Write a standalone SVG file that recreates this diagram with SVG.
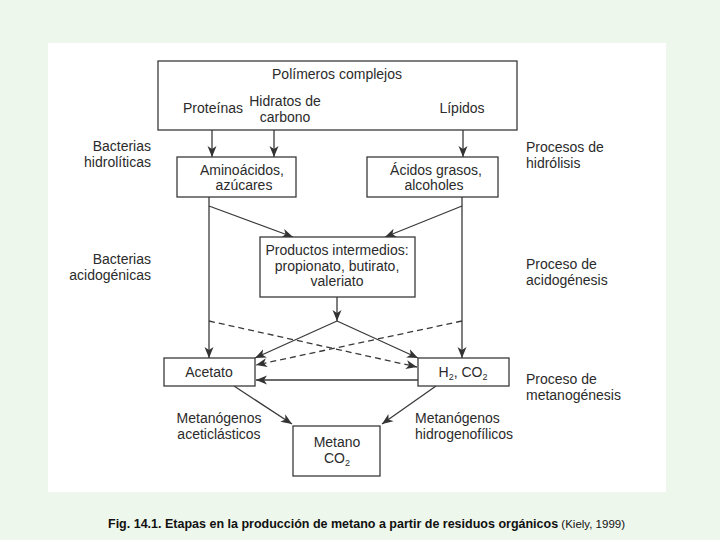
<svg xmlns="http://www.w3.org/2000/svg" width="720" height="540" viewBox="0 0 720 540">
<style>
.t{font-family:"Liberation Sans",Arial,sans-serif;font-size:14px;fill:#2b2b2b}
.m{text-anchor:middle}
.e{text-anchor:end}
.box{fill:#fff;stroke:#3a3a3a;stroke-width:1.3}
.ln{stroke:#3a3a3a;stroke-width:1.3;fill:none}
.ar{marker-end:url(#ah)}
.d{stroke-dasharray:6 4}
.cap{font-family:"Liberation Sans",Arial,sans-serif;fill:#111}
</style>
<defs>
<marker id="ah" markerUnits="userSpaceOnUse" markerWidth="12" markerHeight="10" viewBox="0 0 12 10" refX="11" refY="5" orient="auto">
<path d="M0,0.5 L11,5 L0,9.5 L3,5 z" fill="#333"/>
</marker>
</defs>
<rect x="0" y="0" width="720" height="540" fill="#eef7ec"/>
<rect x="48" y="43" width="618" height="449" fill="#ffffff"/>

<g id="connectors">
<line class="ln ar" x1="212" y1="130" x2="212" y2="157"/>
<line class="ln ar" x1="274" y1="130" x2="274" y2="157"/>
<line class="ln ar" x1="463" y1="130" x2="463" y2="157"/>
<line class="ln ar" x1="209" y1="197" x2="209" y2="358"/>
<line class="ln ar" x1="462" y1="197" x2="462" y2="358"/>
<line class="ln ar" x1="209" y1="206" x2="293" y2="237"/>
<line class="ln ar" x1="462" y1="206" x2="385" y2="237"/>
<line class="ln ar" x1="337" y1="297" x2="337" y2="321"/>
<line class="ln ar" x1="337" y1="321" x2="255" y2="358"/>
<line class="ln ar" x1="337" y1="321" x2="418" y2="358"/>
<line class="ln ar d" x1="209" y1="321" x2="417" y2="367"/>
<line class="ln ar d" x1="462" y1="321" x2="256" y2="365"/>
<line class="ln ar" x1="418" y1="380" x2="256" y2="380"/>
<line class="ln ar" x1="234" y1="386" x2="292" y2="424"/>
<line class="ln ar" x1="436" y1="386" x2="382" y2="424"/>
</g>

<g id="polimeros">
<rect class="box" x="158" y="61" width="359" height="69"/>
<text class="t m" x="337" y="79">Polímeros complejos</text>
<text class="t m" x="213" y="113">Proteínas</text>
<text class="t m" x="285" y="106">Hidratos de</text>
<text class="t m" x="285" y="122">carbono</text>
<text class="t m" x="462" y="113">Lípidos</text>
</g>

<g id="aminoacidos">
<rect class="box" x="177" y="157" width="119" height="40"/>
<text class="t m" x="242" y="175">Aminoácidos,</text>
<text class="t m" x="244" y="190">azúcares</text>
</g>

<g id="acidos">
<rect class="box" x="367" y="157" width="131" height="40"/>
<text class="t m" x="436" y="175">Ácidos grasos,</text>
<text class="t m" x="434" y="190">alcoholes</text>
</g>

<g id="productos">
<rect class="box" x="260" y="237" width="155" height="60"/>
<text class="t m" x="337" y="255">Productos intermedios:</text>
<text class="t m" x="337" y="271">propionato, butirato,</text>
<text class="t m" x="337" y="286">valeriato</text>
</g>

<g id="acetato">
<rect class="box" x="164" y="358" width="91" height="28"/>
<text class="t m" x="209" y="377">Acetato</text>
</g>

<g id="h2co2">
<rect class="box" x="418" y="358" width="91" height="28"/>
<text class="t m" x="463" y="377">H<tspan font-size="9" dy="3">2</tspan><tspan dy="-3">, CO</tspan><tspan font-size="9" dy="3">2</tspan></text>
</g>

<g id="metano">
<rect class="box" x="293" y="426" width="87" height="50"/>
<text class="t m" x="337" y="447">Metano</text>
<text class="t m" x="337" y="463">CO<tspan font-size="9" dy="3">2</tspan></text>
</g>

<g id="labels">
<text class="t e" x="151" y="151">Bacterias</text>
<text class="t e" x="151" y="167">hidrolíticas</text>
<text class="t e" x="151" y="264">Bacterias</text>
<text class="t e" x="151" y="280">acidogénicas</text>
<text class="t" x="526" y="152">Procesos de</text>
<text class="t" x="526" y="168">hidrólisis</text>
<text class="t" x="526" y="269">Proceso de</text>
<text class="t" x="526" y="285">acidogénesis</text>
<text class="t" x="526" y="384">Proceso de</text>
<text class="t" x="526" y="400">metanogénesis</text>
<text class="t m" x="219" y="423">Metanógenos</text>
<text class="t m" x="219" y="439">aceticlásticos</text>
<text class="t" x="415" y="423">Metanógenos</text>
<text class="t" x="415" y="439">hidrogenofílicos</text>
</g>

<g id="caption">
<text class="cap" x="108" y="528" font-size="12.5"><tspan font-weight="bold">Fig. 14.1. Etapas en la producción de metano a partir de residuos orgánicos</tspan><tspan font-size="11.5"> (Kiely, 1999)</tspan></text>
</g>
</svg>
